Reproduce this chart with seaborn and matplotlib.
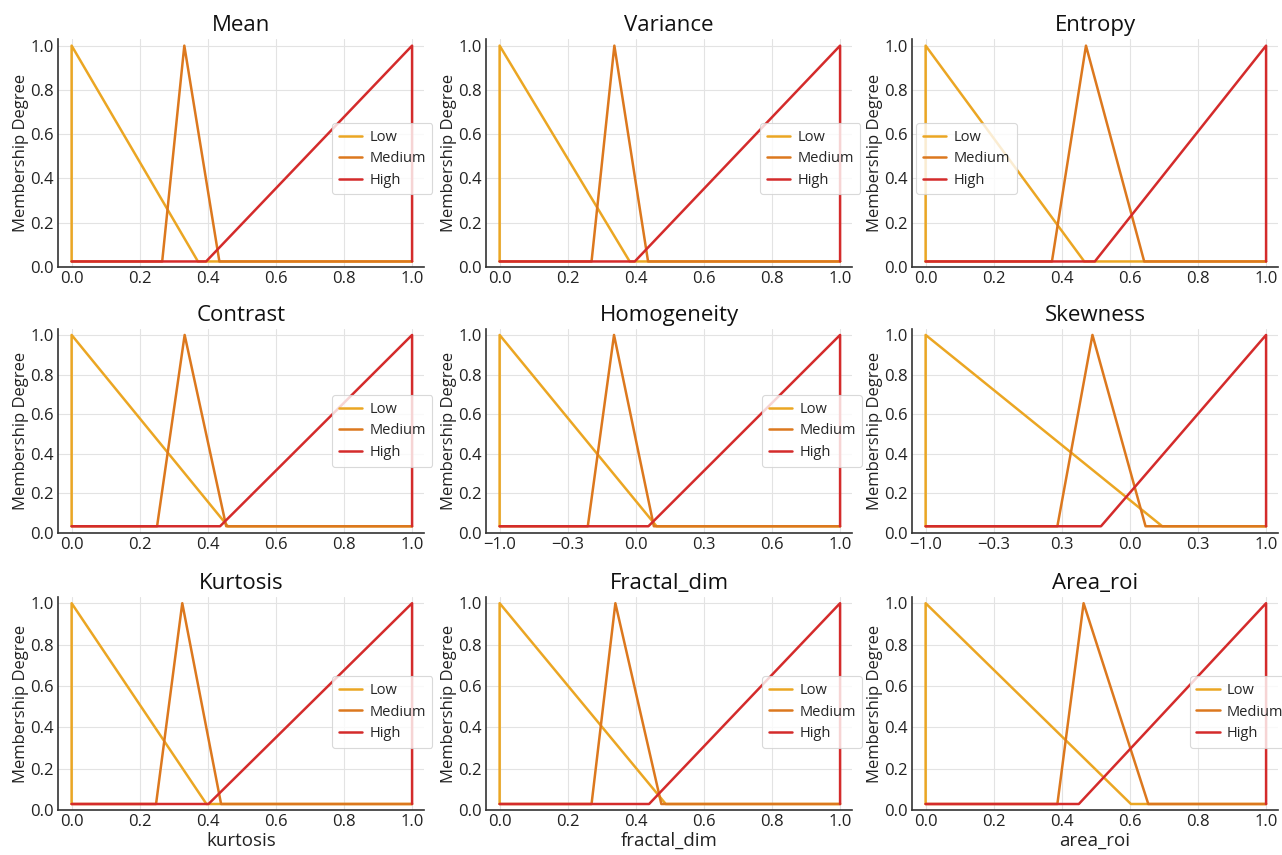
import numpy as np
import pandas as pd
import matplotlib
matplotlib.use("Agg")
import matplotlib.pyplot as plt
import seaborn as sns

# Panel titles and x labels (only bottom row carries an x label)
titles = ["Mean", "Variance", "Entropy",
          "Contrast", "Homogeneity", "Skewness",
          "Kurtosis", "Fractal_dim", "Area_roi"]
xlabels = ["", "", "", "", "", "", "kurtosis", "fractal_dim", "area_roi"]

# Membership function vertices (x in 0..1 of the universe)
# low: end of the falling edge; medium: start, peak, end; high: start of the rising edge
low_end = [0.371, 0.382, 0.466, 0.459, 0.461, 0.695, 0.396, 0.488, 0.603]
med_start = [0.266, 0.270, 0.371, 0.251, 0.259, 0.387, 0.248, 0.270, 0.387]
med_peak = [0.331, 0.337, 0.471, 0.332, 0.336, 0.490, 0.325, 0.340, 0.464]
med_end = [0.434, 0.436, 0.642, 0.454, 0.453, 0.646, 0.439, 0.475, 0.654]
high_start = [0.395, 0.397, 0.497, 0.436, 0.437, 0.515, 0.402, 0.439, 0.450]
floor = [0.025, 0.025, 0.025, 0.034, 0.034, 0.034, 0.029, 0.029, 0.029]

# Universe of discourse per panel
x_min = [0, 0, 0, 0, -1, -1, 0, 0, 0]
x_max = [1, 1, 1, 1, 1, 1, 1, 1, 1]

tick_labels_01 = ["0.0", "0.2", "0.4", "0.6", "0.8", "1.0"]
tick_labels_hom = ["\u22121.0", "\u22120.3", "0.0", "0.3", "0.6", "1.0"]
tick_labels_skew = ["\u22121.0", "\u22120.3", "0.3", "0.0", "0.3", "1.0"]
xtick_labels = [tick_labels_01, tick_labels_01, tick_labels_01,
                tick_labels_01, tick_labels_hom, tick_labels_skew,
                tick_labels_01, tick_labels_01, tick_labels_01]

# legend placement per panel (None = no legend)
legend_loc = ["center right", "center right", "center left",
              "center right", "center right", None,
              "center right", "center right", "center right"]
legend_anchor = [(1.035, 0.475), (1.035, 0.475), (0.0, 0.475),
                 (1.035, 0.5), (1.04, 0.5), None,
                 (1.035, 0.46), (1.04, 0.46), (1.045, 0.46)]

colors = {"Low": "#EBA623", "Medium": "#DC781E", "High": "#D42B2B"}

sns.set_style("whitegrid")
plt.rcParams["font.family"] = ["Open Sans", "DejaVu Sans"]

fig, axes = plt.subplots(3, 3, figsize=(12.82, 8.55), dpi=100)

# axes placement in pixels (rows: bottom, height; cols: left, width)
W, H = 1282, 855
row_px = [(267, 228), (533, 204), (810, 213)]
col_px = [(58, 366), (486, 366), (912, 366)]

for i, ax in enumerate(axes.flat):
    r, c = divmod(i, 3)
    b, h = row_px[r]
    l, w = col_px[c]
    ax.set_position([l / W, 1 - b / H, w / W, h / H])

    lo, hi = x_min[i], x_max[i]
    span = hi - lo
    f = floor[i]

    def sx(v):
        return lo + v * span

    rows = []
    low_pts = [(0, f), (0, 1), (low_end[i], f), (1, f)]
    med_pts = [(0, f), (med_start[i], f), (med_peak[i], 1), (med_end[i], f), (1, f)]
    high_pts = [(0, f), (high_start[i], f), (1, 1), (1, f)]
    for name, pts in [("Low", low_pts), ("Medium", med_pts), ("High", high_pts)]:
        for k, (px, py) in enumerate(pts):
            rows.append({"set": name, "order": k, "x": sx(px), "mu": py})
    df = pd.DataFrame(rows)

    sns.lineplot(data=df, x="x", y="mu", hue="set", sort=False,
                 estimator=None, palette=colors, linewidth=1.8, ax=ax,
                 legend=legend_loc[i] is not None)

    ax.set_xlim(lo - 0.04 * span, hi + 0.035 * span)
    ax.set_ylim(0, 1.03)
    ax.set_xticks(np.linspace(lo, hi, 6))
    ax.set_xticklabels(xtick_labels[i])
    ax.set_yticks([0, 0.2, 0.4, 0.6, 0.8, 1.0])
    ax.set_yticklabels(["0.0", "0.2", "0.4", "0.6", "0.8", "1.0"])
    ax.tick_params(labelsize=12, length=0, pad=3, colors="#222222")
    ax.grid(color="#e3e3e3", linewidth=0.8)
    ax.set_title(titles[i], fontsize=16, pad=6, color="#111111")
    ax.set_ylabel("Membership Degree", fontsize=12, labelpad=1, color="#222222")
    ax.set_xlabel(xlabels[i], fontsize=13.5, labelpad=1, color="#222222")
    for side in ["top", "right"]:
        ax.spines[side].set_visible(False)
    for side in ["left", "bottom"]:
        ax.spines[side].set_color("#333333")
        ax.spines[side].set_linewidth(1.2)

    if legend_loc[i] is not None:
        leg = ax.legend(loc=legend_loc[i], bbox_to_anchor=legend_anchor[i],
                        fontsize=10.5, frameon=True, handlelength=1.6,
                        borderpad=0.45, labelspacing=0.45, handletextpad=0.5,
                        borderaxespad=0.3)
        leg.get_frame().set_edgecolor("#d0d0d0")
        leg.get_frame().set_linewidth(0.8)
        leg.set_title(None)

fig.savefig("out.png", dpi=100)
